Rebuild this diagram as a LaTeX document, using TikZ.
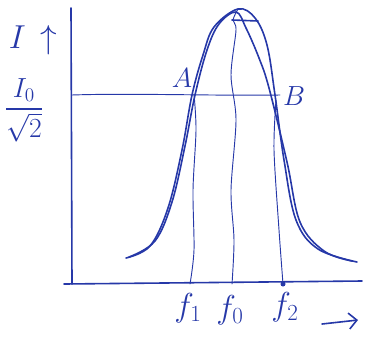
\documentclass[tikz,border=0pt]{standalone}
\usepackage{amsmath}
\usetikzlibrary{arrows.meta,positioning}
\definecolor{ink}{RGB}{38,56,168}

\begin{document}
\begin{tikzpicture}[
  x=0.75pt, y=-0.75pt,
  pen/.style={draw=ink, line width=1.2pt, line cap=round, line join=round},
  guide/.style={draw=ink, line width=0.7pt, line cap=round},
  lbl/.style={text=ink, inner sep=0pt, font=\fontsize{26}{30}\selectfont}
]
\useasboundingbox (0,0) rectangle (366,343);
% axes
\coordinate (O) at (72,284);
\coordinate (ytop) at (71,8);
\coordinate (xstart) at (64,284);
\coordinate (xend) at (362,281);
\draw[pen] (ytop) -- (O);
\draw[pen] (xstart) -- (xend);
% level line and marked points
\coordinate (lvl) at (72,95);
\coordinate (A) at (194,94);
\coordinate (B) at (280,95);
\coordinate (peak) at (238,9);
\coordinate (f1) at (190,284);
\coordinate (f0) at (232,284);
\coordinate (f2) at (283,284);
\draw[guide] (lvl) .. controls (130,93) and (220,96) .. (B);
% resonance curve, drawn twice
\draw[pen] plot[smooth, tension=0.6] coordinates {(126,258) (150,246) (168,208) (182,150) (192,95) (203,55) (214,27) (238,9) (255,18) (267,45) (275,95) (284,160) (296,220) (318,249) (357,262)};
\draw[pen] plot[smooth, tension=0.6] coordinates {(129,257) (155,241) (172,202) (185,146) (195,95) (207,50) (219,24) (236,12) (246,28) (259,58) (269,88) (287,162) (300,222) (324,251) (352,261)};
\draw[pen] (232,20) -- (258,21);
% guide lines down to the axis
\draw[guide] plot[smooth] coordinates {(A) (196,130) (193,190) (194,250) (f1)};
\draw[guide] plot[smooth] coordinates {(peak) (233,20) (236,30) (231,75) (236,120) (231,190) (234,240) (f0)};
\draw[guide] plot[smooth] coordinates {(276,100) (274,150) (279,230) (f2)};
\fill[ink] (f2) circle (2.5);
% labels
\node[lbl] (Ilab) at (33,40) {$I\,\uparrow$};
\node[lbl, font=\fontsize{22}{26}\selectfont] (Inorm) at (24,110) {$\dfrac{I_0\vphantom{I_{0_0}}}{\rule{0pt}{0.85em}\sqrt{2}}$};
\node[lbl, font=\fontsize{20}{24}\selectfont] (Alab) at (182,78) {$A$};
\node[lbl, font=\fontsize{20}{24}\selectfont] (Blab) at (294,96) {$B$};
\node[lbl] (f1lab) at (188,308) {$f_1$};
\node[lbl] (f0lab) at (230,310) {$f_0$};
\node[lbl] (f2lab) at (285,307) {$f_2$};
\coordinate (arrs) at (322,324);
\coordinate (arre) at (358,320);
\draw[pen, -{Straight Barb[length=6pt]}] (arrs) -- (arre);
\end{tikzpicture}
\end{document}
